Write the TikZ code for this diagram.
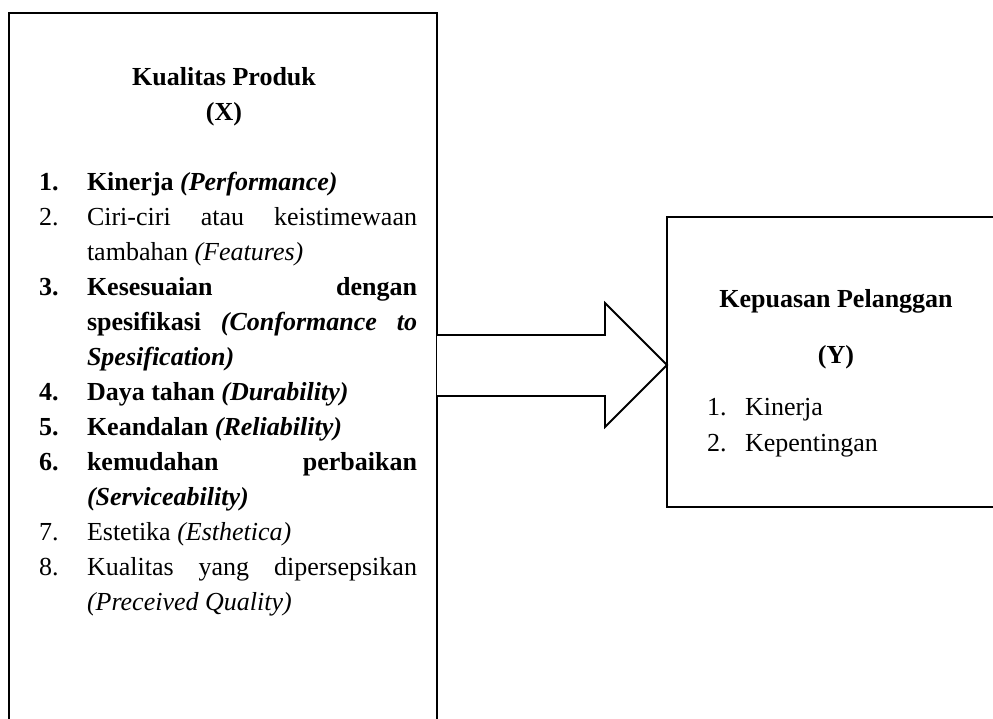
\documentclass[tikz,border=0pt]{standalone}
\usepackage{fontspec}
\setmainfont{Liberation Serif}
\begin{document}
\begin{tikzpicture}[x=1pt,y=-1pt,
  every node/.style={font=\fontsize{26}{35}\selectfont},
  box/.style={draw, line width=1.3pt, inner sep=0pt, outer sep=0pt},
  lft/.style={anchor=base west, inner sep=0pt, outer sep=0pt},
  ctr/.style={anchor=base, inner sep=0pt, outer sep=0pt, font=\fontsize{26}{35}\selectfont\bfseries},
  blockarrow/.style={draw, line width=1.8pt, line join=miter, fill=white}]
\useasboundingbox (0,0) rectangle (993,718);
\begin{scope}
\clip (0,0) rectangle (993,718);
\node[box, anchor=north west, minimum width=428pt, minimum height=760pt] (L) at (9,13) {};
\node[box, anchor=north west, minimum width=400pt, minimum height=290pt] (R) at (667,217) {};
\end{scope}
% block arrow
\coordinate (sT) at (605,335);
\coordinate (sB) at (605,396);
\coordinate (hT) at (605,303);
\coordinate (hB) at (605,427);
\coordinate (tip) at (0,365);
\draw[blockarrow] (L.east |- sT) -- (sT) -- (hT) -- (R.west |- tip) -- (hB) -- (sB) -- (L.east |- sB);
% left box text
\node[ctr] (ltitle) at (224,85) {Kualitas Produk};
\node[ctr] (lx) at (224,120) {(X)};
\node[lft] (n1) at (39,190) {\textbf{1.}};
\node[lft] (t1) at (87,190) {\textbf{Kinerja \textit{(Performance)}}};
\node[lft] (n2) at (39,225) {2.};
\node[lft] (t2a) at (87,225) {\hbox to 330pt{Ciri-ciri\hfill atau\hfill keistimewaan}};
\node[lft] (t2b) at (87,260) {tambahan \textit{(Features)}};
\node[lft] (n3) at (39,295) {\textbf{3.}};
\node[lft] (t3a) at (87,295) {\hbox to 330pt{\bfseries Kesesuaian\hfill dengan}};
\node[lft] (t3b) at (87,330) {\hbox to 330pt{\bfseries spesifikasi\hfill \textit{(Conformance}\hfill \textit{to}}};
\node[lft] (t3c) at (87,365) {\textbf{\textit{Spesification)}}};
\node[lft] (n4) at (39,400) {\textbf{4.}};
\node[lft] (t4) at (87,400) {\textbf{Daya tahan \textit{(Durability)}}};
\node[lft] (n5) at (39,435) {\textbf{5.}};
\node[lft] (t5) at (87,435) {\textbf{Keandalan \textit{(Reliability)}}};
\node[lft] (n6) at (39,470) {\textbf{6.}};
\node[lft] (t6a) at (87,470) {\hbox to 330pt{\bfseries kemudahan\hfill perbaikan}};
\node[lft] (t6b) at (87,505) {\textbf{\textit{(Serviceability)}}};
\node[lft] (n7) at (39,540) {7.};
\node[lft] (t7) at (87,540) {Estetika \textit{(Esthetica)}};
\node[lft] (n8) at (39,575) {8.};
\node[lft] (t8a) at (87,575) {\hbox to 330pt{Kualitas\hfill yang\hfill dipersepsikan}};
\node[lft] (t8b) at (87,610) {\textit{(Preceived Quality)}};
% right box text
\node[ctr] (rtitle) at (836,307) {Kepuasan Pelanggan};
\node[ctr] (ry) at (836,363) {(Y)};
\node[lft] (rn1) at (707,415) {1.};
\node[lft] (rt1) at (745,415) {Kinerja};
\node[lft] (rn2) at (707,451) {2.};
\node[lft] (rt2) at (745,451) {Kepentingan};
\end{tikzpicture}
\end{document}
